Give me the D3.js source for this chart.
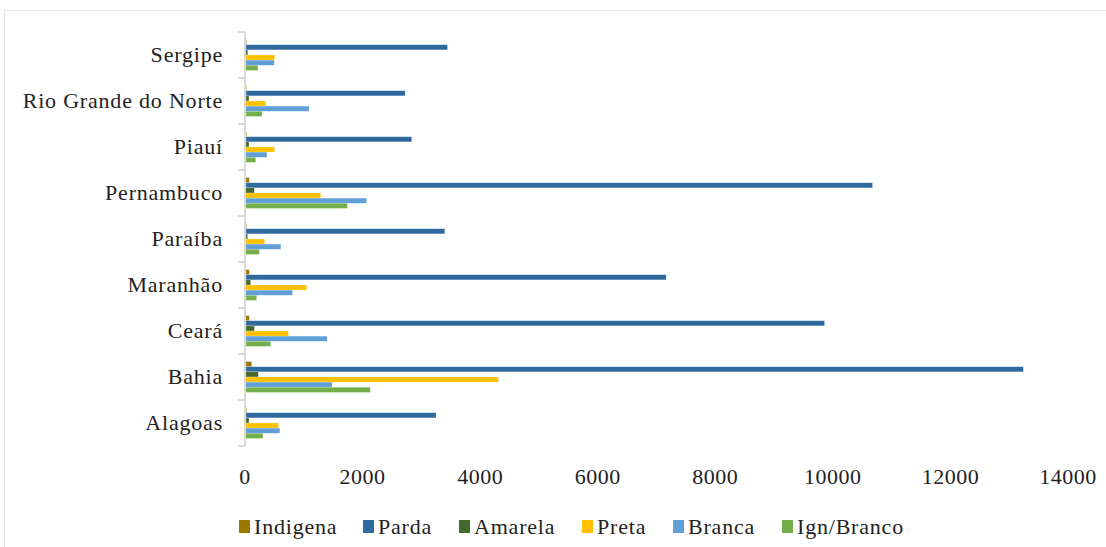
<!DOCTYPE html>
<html>
<head>
<meta charset="utf-8">
<script src="https://cdn.jsdelivr.net/npm/d3@7"></script>
<style>
  body { margin: 0; background: #fff; }
  svg { display: block; }
</style>
</head>
<body>
<svg width="1106" height="547"></svg>
<script>
// states, top to bottom as in the chart
const states = ["Sergipe", "Rio Grande do Norte", "Piauí", "Pernambuco", "Paraíba",
                "Maranhão", "Ceará", "Bahia", "Alagoas"];
const seriesNames = ["Indigena", "Parda", "Amarela", "Preta", "Branca", "Ign/Branco"];
const seriesColors = ["#9c7800", "#2f6a9e", "#44692c", "#ffc000", "#619fd8", "#72af4a"];

const indigena = [8, 8, 8, 56, 8, 56, 56, 96, 10];
const parda    = [3427, 2707, 2820, 10658, 3381, 7148, 9842, 13223, 3233];
const amarela  = [30, 50, 50, 141, 28, 79, 141, 209, 50];
const preta    = [486, 334, 486, 1271, 316, 1034, 723, 4294, 553];
const branca   = [480, 1073, 356, 2051, 593, 791, 1379, 1463, 576];
const ignBranco = [203, 271, 164, 1723, 226, 181, 418, 2113, 288];

const xTicks = [0, 2000, 4000, 6000, 8000, 10000, 12000, 14000];

const seriesValues = [indigena, parda, amarela, preta, branca, ignBranco];

const FONT = "'Liberation Serif', 'Times New Roman', Times, serif";

const svg = d3.select("svg");

// faint chart frame
svg.append("rect")
    .attr("x", 4.5).attr("y", 10.5)
    .attr("width", 1120).attr("height", 560)
    .attr("fill", "none").attr("stroke", "#e6e6e6");

const x = d3.scaleLinear().domain([0, 14000]).range([246, 1069]);
const y = d3.scaleBand().domain(states).range([32, 446])
    .paddingInner(0.33).paddingOuter(0.165);
const ySub = d3.scaleBand().domain(seriesNames).range([0, y.bandwidth()]);

// bars
const groups = svg.append("g").selectAll("g")
    .data(states)
    .join("g")
    .attr("transform", d => `translate(0,${y(d)})`);

groups.selectAll("rect")
    .data((s, i) => seriesNames.map((n, k) => ({ name: n, value: seriesValues[k][i], color: seriesColors[k] })))
    .join("rect")
    .attr("x", x(0))
    .attr("y", d => ySub(d.name))
    .attr("width", d => x(d.value) - x(0))
    .attr("height", ySub.bandwidth())
    .attr("fill", d => d.color)
    .attr("stroke", "#ffffff")
    .attr("stroke-opacity", 0.35)
    .attr("stroke-width", 0.6);

// y axis: line plus small ticks at category boundaries
const yAxisG = svg.append("g");
yAxisG.append("line")
    .attr("x1", 245).attr("x2", 245)
    .attr("y1", 32).attr("y2", 446)
    .attr("stroke", "#d9d9d9").attr("stroke-width", 2);
const boundaries = states.map(s => y(s) - y.step() * y.paddingInner() / 2).concat([446]);
yAxisG.selectAll("line.tk")
    .data(boundaries)
    .join("line")
    .attr("class", "tk")
    .attr("x1", 238).attr("x2", 245)
    .attr("y1", d => d).attr("y2", d => d)
    .attr("stroke", "#d9d9d9").attr("stroke-width", 2);

// category labels
svg.append("g").selectAll("text")
    .data(states)
    .join("text")
    .attr("x", 223)
    .attr("y", d => y(d) + y.bandwidth() / 2 + 7)
    .attr("text-anchor", "end")
    .attr("font-family", FONT)
    .attr("font-size", 22)
    .attr("letter-spacing", 0.8)
    .attr("fill", "#222")
    .text(d => d);

// x tick labels
svg.append("g").selectAll("text")
    .data(xTicks)
    .join("text")
    .attr("x", d => x(d) - 1)
    .attr("y", 484)
    .attr("text-anchor", "middle")
    .attr("font-family", FONT)
    .attr("font-size", 22)
    .attr("letter-spacing", 0.5)
    .attr("fill", "#222")
    .text(d => d);

// legend
const legendX = [239, 363, 459, 582, 673, 782];
const legend = svg.append("g").selectAll("g")
    .data(seriesNames)
    .join("g")
    .attr("transform", (d, i) => `translate(${legendX[i]},527)`);
legend.append("rect")
    .attr("x", 0).attr("y", -7)
    .attr("width", 11).attr("height", 13)
    .attr("fill", (d, i) => seriesColors[i]);
legend.append("text")
    .attr("x", 15).attr("y", 7)
    .attr("font-family", FONT)
    .attr("font-size", 22)
    .attr("letter-spacing", 0.8)
    .attr("fill", "#222")
    .text(d => d);
</script>
</body>
</html>
